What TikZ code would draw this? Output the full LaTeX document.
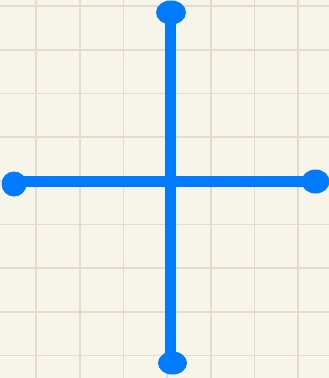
\documentclass[tikz,border=0pt]{standalone}
\usetikzlibrary{shapes.geometric}
\definecolor{paper}{HTML}{F7F5E9}
\definecolor{gridc}{HTML}{E0DDCD}
\definecolor{penblue}{HTML}{007AFF}
\begin{document}
\begin{tikzpicture}[x=1pt,y=-1pt,
  blob/.style={ellipse,fill=penblue,inner sep=0pt},
  stroke/.style={draw=penblue,line width=11pt}]
\fill[paper] (0,0) rectangle (329,378);
\useasboundingbox (0,0) rectangle (329,378);
\foreach \i in {0,...,6} \draw[gridc,line width=1.6pt] ({36+43.7*\i},0) -- ({36+43.7*\i},378);
\foreach \j in {0,...,8} \draw[gridc,line width=1.6pt] (0,{6+43.7*\j}) -- (329,{6+43.7*\j});
% end blobs
\node[blob,minimum width=30pt,minimum height=24pt] (top) at (171,12.5) {};
\node[blob,minimum width=29pt,minimum height=23pt] (bottom) at (172.5,363) {};
\node[blob,minimum width=25pt,minimum height=25pt] (left) at (14,184) {};
\node[blob,minimum width=28pt,minimum height=24pt] (right) at (315.5,181.5) {};
% strokes
\draw[stroke] (top.center) ++(-1,0) -- ([xshift=-2.5pt]bottom.center);
\draw[stroke] (left.center) ++(0,-2.5) -- (right.center);
\end{tikzpicture}
\end{document}
